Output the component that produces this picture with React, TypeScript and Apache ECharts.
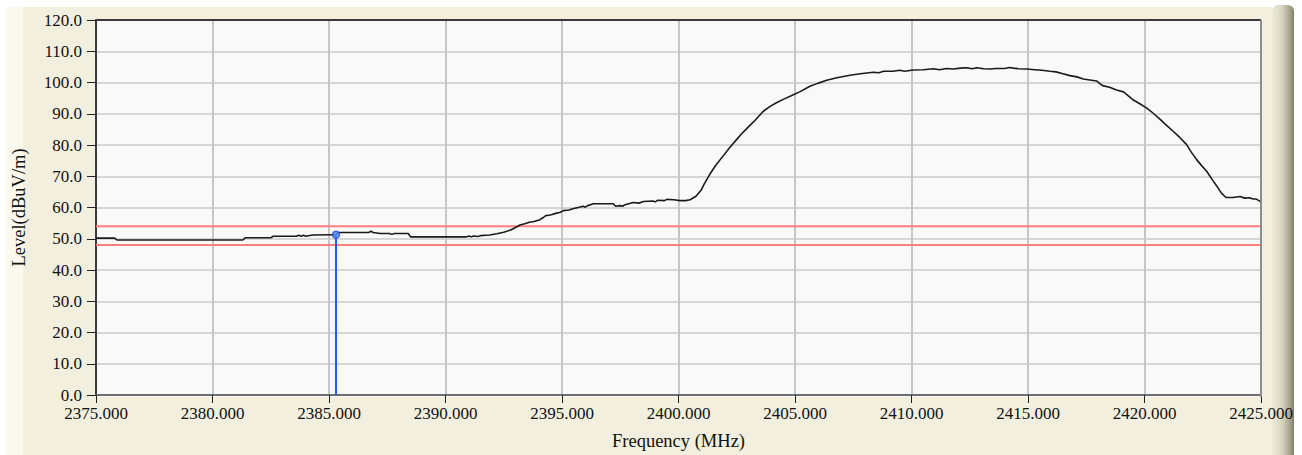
import React, { useEffect, useRef } from "react";
import * as echarts from "echarts";

// Measured spectrum trace: frequency (MHz) and level (dBuV/m)
const freqs: number[] = [
  2375.0, 2375.8, 2375.9, 2378.0, 2381.3, 2381.4, 2382.5, 2382.6, 2383.6, 2383.7,
  2383.8, 2383.9, 2384.0, 2384.3, 2385.2, 2385.3, 2385.4, 2386.7, 2386.8, 2386.9,
  2387.2, 2387.6, 2387.7, 2387.8, 2388.4, 2388.5, 2390.9, 2391.0, 2391.1, 2391.2,
  2391.4, 2391.5, 2391.9, 2392.2, 2392.5, 2392.8, 2393.0, 2393.2, 2393.4, 2393.6,
  2393.8, 2394.05, 2394.2, 2394.3, 2394.5, 2394.77, 2394.9, 2395.06, 2395.3, 2395.5,
  2395.7, 2395.9, 2396.0, 2396.1, 2396.35, 2396.8, 2397.2, 2397.3, 2397.5, 2397.6,
  2397.7, 2398.06, 2398.3, 2398.5, 2398.9, 2399.0, 2399.1, 2399.4, 2399.5, 2399.8,
  2400.06, 2400.3, 2400.5, 2400.75, 2400.97, 2401.1, 2401.35, 2401.6, 2401.97, 2402.2,
  2402.5, 2402.7, 2403.0, 2403.3, 2403.64, 2403.9, 2404.2, 2404.5, 2404.93, 2405.2,
  2405.64, 2406.0, 2406.36, 2406.8, 2407.36, 2407.8, 2408.36, 2408.6, 2408.8, 2409.2,
  2409.5, 2409.7, 2410.08, 2410.5, 2410.94, 2411.2, 2411.5, 2411.8, 2412.1, 2412.37,
  2412.6, 2412.8, 2413.1, 2413.37, 2413.6, 2414.0, 2414.2, 2414.37, 2414.6, 2414.94,
  2415.3, 2415.6, 2415.94, 2416.2, 2416.5, 2416.8, 2417.1, 2417.37, 2417.94, 2418.2,
  2418.5, 2418.8, 2419.1, 2419.5, 2419.8, 2420.1, 2420.4, 2420.66, 2420.9, 2421.23,
  2421.5, 2421.8, 2422.0, 2422.23, 2422.45, 2422.66, 2422.9, 2423.1, 2423.3, 2423.5,
  2423.8, 2424.1, 2424.3, 2424.5, 2424.66, 2424.8, 2425.0,
];

const levels: number[] = [
  50.2, 50.2, 49.6, 49.6, 49.6, 50.3, 50.3, 50.8, 50.8, 51.1,
  50.8, 51.1, 50.8, 51.2, 51.3, 51.3, 52.0, 52.0, 52.4, 52.0,
  51.7, 51.7, 51.4, 51.7, 51.7, 50.6, 50.6, 50.9, 50.6, 50.9,
  50.7, 51.0, 51.2, 51.6, 52.1, 52.8, 53.6, 54.4, 54.8, 55.3,
  55.5, 56.1, 56.8, 57.4, 57.6, 58.2, 58.4, 59.0, 59.2, 59.7,
  60.0, 60.4, 60.1, 60.6, 61.2, 61.2, 61.2, 60.4, 60.6, 60.4,
  60.9, 61.6, 61.4, 61.9, 62.1, 61.8, 62.3, 62.2, 62.6, 62.5,
  62.2, 62.2, 62.5, 63.6, 65.5, 67.5, 70.7, 73.5, 77.0, 79.2,
  81.8, 83.5, 85.8, 88.0, 90.8, 92.2, 93.5, 94.6, 96.1, 97.0,
  98.8, 99.8, 100.7, 101.5, 102.3, 102.8, 103.3, 103.1, 103.6, 103.6,
  103.9, 103.6, 104.0, 104.1, 104.4, 104.1, 104.5, 104.3, 104.6, 104.7,
  104.4, 104.7, 104.4, 104.3, 104.5, 104.5, 104.8, 104.6, 104.4, 104.3,
  104.1, 103.9, 103.6, 103.4, 102.8, 102.2, 101.8, 101.1, 100.5, 99.0,
  98.5, 97.6, 97.0, 94.5, 93.2, 91.8, 90.0, 88.3, 86.6, 84.4,
  82.5, 80.2, 77.8, 75.4, 73.4, 71.7, 69.0, 66.9, 64.6, 63.2,
  63.2, 63.5, 63.0, 63.1, 62.7, 62.7, 61.8,
];

// Horizontal limit lines (dBuV/m)
const limitLines: number[] = [54, 48];

// Marker position
const markerFreq = 2385.3;
const markerLevel = 51.3;

// Axis ranges
const xRange: number[] = [2375, 2425, 5];
const yRange: number[] = [0, 120, 10];

const SERIF = '"Liberation Serif", "Times New Roman", serif';

export default function App() {
  const ref = useRef<HTMLDivElement>(null);

  useEffect(() => {
    if (!ref.current) return;
    const chart = echarts.init(ref.current, undefined, { renderer: "svg" });

    const L = 96, T = 20, R = 1261, B = 397;

    const trace = freqs.map((f, i) => [f, levels[i]]);

    const option: any = {
      animation: false,
      backgroundColor: "#ffffff",
      grid: { left: L, top: T, width: R - L, height: B - T, show: false },
      xAxis: {
        type: "value",
        min: xRange[0],
        max: xRange[1],
        interval: xRange[2],
        name: "Frequency (MHz)",
        nameLocation: "middle",
        nameGap: 36,
        nameTextStyle: { fontFamily: SERIF, fontSize: 18.5, color: "#111" },
        axisLine: { show: true, onZero: false, lineStyle: { color: "#6e6e6e", width: 2 } },
        axisTick: { show: true, length: 8, lineStyle: { color: "#222", width: 1 } },
        axisLabel: {
          margin: 10,
          fontFamily: SERIF,
          fontSize: 17,
          color: "#111",
          formatter: (v: number) => v.toFixed(3),
          showMaxLabel: true,
          showMinLabel: true,
        },
        splitLine: { show: true, lineStyle: { color: "#c6c6c6", width: 2 } },
      },
      yAxis: {
        type: "value",
        min: yRange[0],
        max: yRange[1],
        interval: yRange[2],
        name: "Level(dBuV/m)",
        nameLocation: "middle",
        nameRotate: 90,
        nameGap: 68,
        nameTextStyle: { fontFamily: SERIF, fontSize: 18.5, color: "#111" },
        axisLine: { show: true, onZero: false, lineStyle: { color: "#3a3a3a", width: 2 } },
        axisTick: { show: true, length: 9, lineStyle: { color: "#222", width: 1 } },
        axisLabel: {
          margin: 14,
          fontFamily: SERIF,
          fontSize: 17,
          color: "#111",
          formatter: (v: number) => v.toFixed(1),
        },
        splitLine: { show: true, lineStyle: { color: "#d6d6d6", width: 2 } },
      },
      graphic: [
        { type: "rect", z: -10, silent: true, shape: { x: 6, y: 7, width: 1266, height: 448 }, style: { fill: "#f2efde" } },
        { type: "rect", z: -9, silent: true, shape: { x: 6, y: 7, width: 17, height: 448 }, style: { fill: "#fbf9ee" } },
        {
          type: "rect",
          z: -9,
          silent: true,
          shape: { x: 1272, y: 5, width: 22, height: 450, r: [6, 6, 0, 0] },
          style: {
            fill: new echarts.graphic.LinearGradient(0, 0, 1, 0, [
              { offset: 0, color: "#eeebd9" },
              { offset: 0.45, color: "#d8d5c1" },
              { offset: 0.85, color: "#a19f8b" },
              { offset: 1, color: "#7d7b69" },
            ]),
          },
        },
        { type: "rect", z: -8, silent: true, shape: { x: L, y: T, width: R - L, height: B - T }, style: { fill: "#f9f9f9" } },
        { type: "line", z: 5, silent: true, shape: { x1: L, y1: T, x2: R, y2: T }, style: { stroke: "#3a3a3a", lineWidth: 2 } },
        { type: "line", z: 5, silent: true, shape: { x1: R, y1: T, x2: R, y2: B }, style: { stroke: "#8c8c8c", lineWidth: 2 } },
      ],
      series: [
        ...limitLines.map((v) => ({
          type: "line",
          data: [[xRange[0], v], [xRange[1], v]],
          showSymbol: false,
          symbol: "none",
          lineStyle: { color: "#ff7f7f", width: 2 },
          z: 2,
        })),
        {
          type: "line",
          data: trace,
          showSymbol: false,
          symbol: "none",
          lineStyle: { color: "#1a1a1a", width: 1.6 },
          z: 3,
        },
        {
          type: "line",
          data: [[markerFreq, yRange[0]], [markerFreq, markerLevel]],
          showSymbol: false,
          symbol: "none",
          lineStyle: { color: "#1f5cff", width: 2 },
          z: 4,
        },
        {
          type: "scatter",
          data: [[markerFreq, markerLevel]],
          symbol: "circle",
          symbolSize: 7,
          itemStyle: { color: "#5a8cff", borderColor: "#1f4fd0", borderWidth: 1.5 },
          z: 5,
        },
      ],
    };

    chart.setOption(option);
    return () => chart.dispose();
  }, []);

  return (
    <div
      ref={ref}
      style={{ position: "fixed", left: 0, top: 0, width: 1302, height: 455 }}
    />
  );
}
